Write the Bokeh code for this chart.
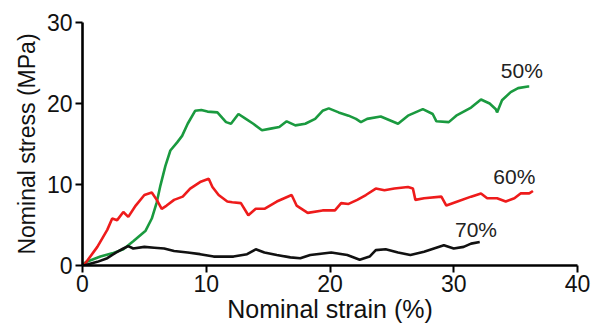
from bokeh.plotting import figure
from bokeh.models import Range1d, FixedTicker
from bokeh.embed import file_html
from bokeh.resources import INLINE
from bokeh.core.properties import value

# ---- data ----
green_x = [0, 0.24, 1.45, 2.4, 3.3, 4.1, 5.1, 5.6, 6.0, 6.3, 6.7, 7.1, 7.65, 8.05, 8.5, 9.1, 9.6, 10.1,
           10.9, 11.6, 12.0, 12.6, 13.2, 13.8, 14.5, 15.2, 15.9, 16.5, 17.2, 18.0, 18.8, 19.4, 19.9,
           20.7, 21.5, 22.1, 22.5, 23.0, 24.1, 25.5, 26.3, 27.5, 28.3, 28.6, 29.6, 30.2, 31.4, 32.2,
           32.9, 33.4, 33.5, 33.9, 34.6, 35.2, 36.0, 36.1]
green_y = [0, 0.4, 1.1, 1.5, 2.0, 3.0, 4.3, 5.8, 7.8, 9.9, 12.3, 14.2, 15.2, 16.0, 17.5, 19.1, 19.2, 19.0,
           18.9, 17.7, 17.5, 18.7, 18.1, 17.5, 16.7, 16.9, 17.1, 17.8, 17.3, 17.5, 18.1, 19.1, 19.4,
           18.9, 18.5, 18.1, 17.7, 18.1, 18.4, 17.5, 18.5, 19.3, 18.7, 17.8, 17.7, 18.5, 19.5, 20.5,
           20.0, 19.3, 18.9, 20.4, 21.4, 21.9, 22.1, 22.1]

red_x = [0.1, 1.2, 2.0, 2.4, 2.8, 3.3, 3.7, 4.3, 5.0, 5.6, 6.0, 6.4, 6.8, 7.4, 8.1, 8.7, 9.5, 10.2,
         10.5, 11.0, 11.7, 12.1, 12.8, 13.4, 14.0, 14.7, 15.7, 16.9, 17.3, 18.2, 19.4, 20.4, 20.9,
         21.5, 22.2, 22.9, 23.7, 24.4, 25.2, 26.3, 26.7, 26.9, 27.6, 29.0, 29.4, 30.3, 31.4, 32.2,
         32.7, 33.5, 34.2, 34.9, 35.4, 36.1, 36.4]
red_y = [0, 2.3, 4.4, 5.8, 5.6, 6.6, 6.0, 7.4, 8.7, 9.0, 8.1, 7.0, 7.4, 8.1, 8.5, 9.5, 10.3, 10.7,
         9.7, 8.7, 7.9, 7.8, 7.7, 6.2, 7.0, 7.0, 7.9, 8.7, 7.4, 6.5, 6.8, 6.8, 7.7,
         7.6, 8.1, 8.7, 9.5, 9.3, 9.5, 9.7, 9.5, 8.1, 8.3, 8.5, 7.4, 7.9, 8.5, 8.9,
         8.3, 8.3, 7.9, 8.3, 8.9, 8.9, 9.2]

black_x = [0.1, 1.2, 2.0, 2.7, 3.3, 3.7, 4.1, 5.0, 5.8, 6.6, 7.4, 8.5, 9.5, 10.6, 12.2, 13.3, 14.0,
           14.7, 15.7, 16.8, 17.6, 18.4, 20.1, 21.4, 22.4, 23.2, 23.7, 24.5, 25.5, 26.5, 27.6,
           29.2, 30.0, 30.8, 31.4, 32.1]
black_y = [0, 0.45, 0.9, 1.6, 2.1, 2.4, 2.1, 2.3, 2.2, 2.1, 1.8, 1.6, 1.4, 1.1, 1.1, 1.4, 2.0,
           1.6, 1.3, 1.0, 0.9, 1.3, 1.6, 1.3, 0.7, 1.1, 1.9, 2.0, 1.6, 1.3, 1.7,
           2.5, 2.1, 2.3, 2.7, 2.9]

series_labels = ["50%", "60%", "70%"]
label_x = [35.5, 34.9, 31.8]
label_y = [24.1, 10.95, 4.5]

x_ticks = [0, 10, 20, 30, 40]
y_ticks = [0, 10, 20, 30]

FONT = "Liberation Sans"

p = figure(width=597, height=326, output_backend="svg", toolbar_location=None,
           x_range=Range1d(0, 40), y_range=Range1d(0, 30),
           min_border_left=82, min_border_right=20, min_border_top=22, min_border_bottom=61)
p.outline_line_color = None
p.xgrid.visible = False
p.ygrid.visible = False
p.background_fill_color = "white"
p.border_fill_color = "white"

p.line(green_x, green_y, line_color="#1a9a3f", line_width=2.6)
p.line(red_x, red_y, line_color="#ee1b1b", line_width=2.6)
p.line(black_x, black_y, line_color="#111111", line_width=2.6)

p.text(x=label_x, y=label_y, text=series_labels, text_align="center", text_baseline="middle",
       text_font=value(FONT), text_font_size="21px", text_color="#222222")

for ax in (p.xaxis[0], p.yaxis[0]):
    ax.axis_line_width = 2.6
    ax.axis_line_color = "black"
    ax.major_tick_line_width = 2
    ax.major_tick_line_color = "black"
    ax.major_tick_in = 0
    ax.major_tick_out = 7
    ax.minor_tick_line_color = None
    ax.major_label_text_font = FONT
    ax.major_label_text_font_size = "23px"
    ax.major_label_text_color = "#111111"
    ax.axis_label_text_font = FONT
    ax.axis_label_text_font_style = "normal"
    ax.axis_label_text_color = "#111111"
    ax.major_label_standoff = 3

p.xaxis[0].major_label_standoff = 2
p.xaxis[0].axis_label_text_font_size = "25px"
p.yaxis[0].axis_label_text_font_size = "23px"
p.xaxis[0].axis_label_standoff = 0
p.yaxis[0].axis_label_standoff = 4

p.xaxis[0].ticker = FixedTicker(ticks=x_ticks)
p.yaxis[0].ticker = FixedTicker(ticks=y_ticks)
p.xaxis[0].axis_label = "Nominal strain (%)"
p.yaxis[0].axis_label = "Nominal stress (MPa)"

open("out.html", "w").write(file_html(p, INLINE))
